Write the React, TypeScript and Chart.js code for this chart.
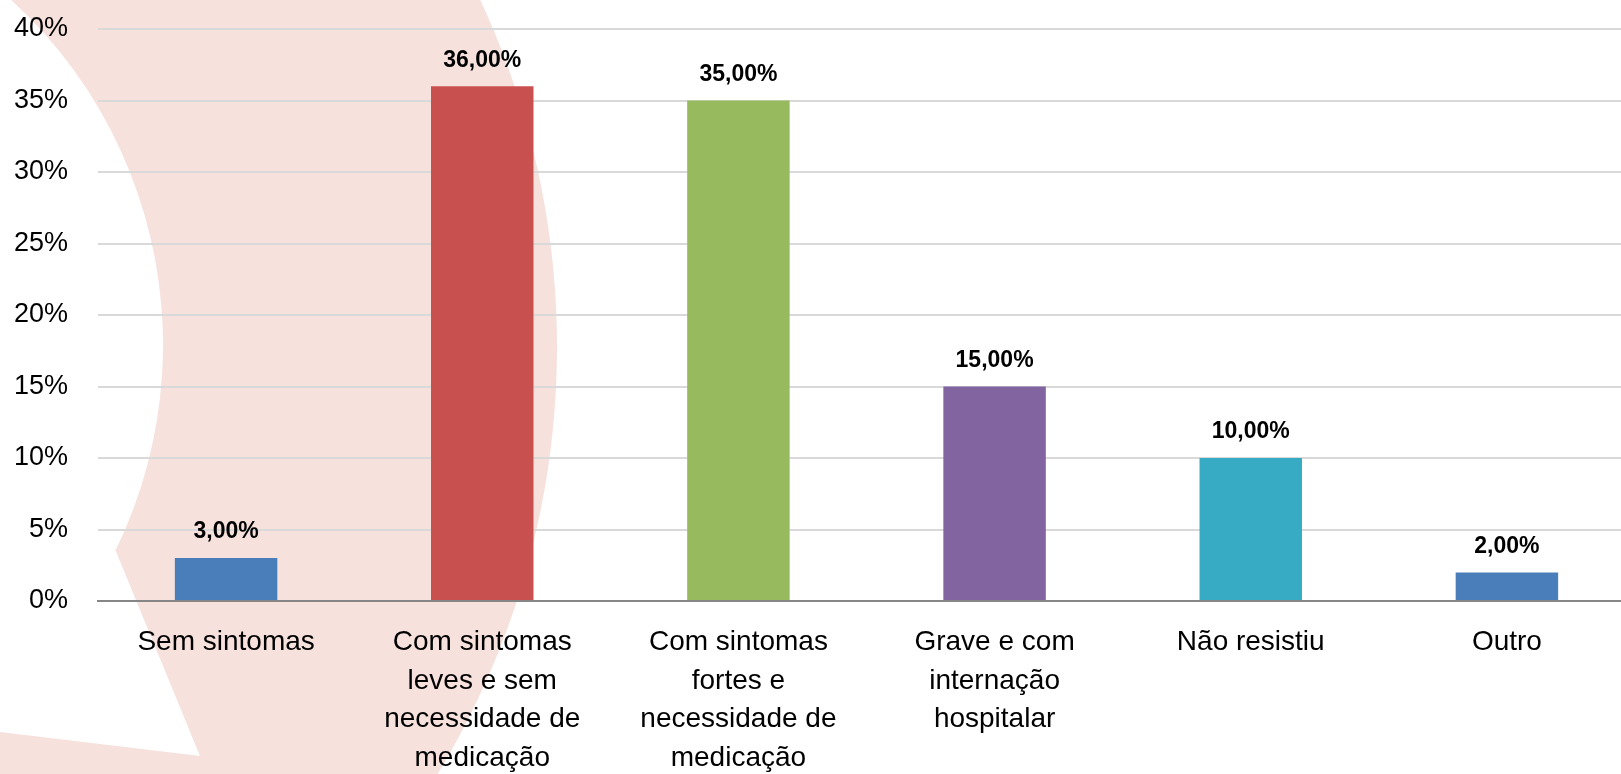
import React, { useEffect, useRef } from "react";
import { Chart, registerables } from "chart.js";

Chart.register(...registerables);

const categories: (string | string[])[] = [
  "Sem sintomas",
  ["Com sintomas", "leves e sem", "necessidade de", "medicação"],
  ["Com sintomas", "fortes e", "necessidade de", "medicação"],
  ["Grave e com", "internação", "hospitalar"],
  "Não resistiu",
  "Outro",
];
const values: number[] = [3, 36, 35, 15, 10, 2];
const barColors: string[] = ["#4A7EBB", "#C8504E", "#98BA5E", "#8264A0", "#37AAC4", "#4A7EBB"];
const yMax = 40;
const yStep = 5;

const FONT = "'Liberation Sans', Arial, sans-serif";

const backgroundShape = {
  id: "backgroundShape",
  beforeDraw(chart: any) {
    const ctx = chart.ctx;
    ctx.save();
    ctx.fillStyle = "#ffffff";
    ctx.fillRect(0, 0, chart.width, chart.height);
    // decorative pink arrow-ring
    ctx.fillStyle = "#F6E1DC";
    ctx.beginPath();
    ctx.arc(-266, 347, 823, 0, Math.PI * 2);
    ctx.fill();
    ctx.fillStyle = "#ffffff";
    ctx.beginPath();
    const cx = -305, cy = 345, r = 468;
    const a1 = Math.atan2(549 - cy, 115 - cx);
    ctx.moveTo(115, 549);
    ctx.arc(cx, cy, r, a1, -Math.PI / 2, true);
    ctx.lineTo(-305, 731);
    ctx.lineTo(0, 732);
    ctx.lineTo(200, 756);
    ctx.closePath();
    ctx.fill();
    ctx.restore();
  },
};

const valueLabels = {
  id: "valueLabels",
  afterDatasetsDraw(chart: any) {
    const ctx = chart.ctx;
    const meta = chart.getDatasetMeta(0);
    ctx.save();
    ctx.font = `bold 23px ${FONT}`;
    ctx.fillStyle = "#000";
    ctx.textAlign = "center";
    ctx.textBaseline = "middle";
    meta.data.forEach((bar: any, i: number) => {
      const v = values[i];
      ctx.fillText(v.toFixed(2).replace(".", ",") + "%", bar.x, bar.y - 26);
    });
    ctx.restore();
  },
};

export default function App() {
  const ref = useRef<HTMLCanvasElement | null>(null);
  useEffect(() => {
    if (!ref.current) return;
    const chart = new Chart(ref.current, {
      type: "bar",
      data: {
        labels: categories,
        datasets: [
          {
            data: values,
            backgroundColor: barColors,
            borderWidth: 0,
            barPercentage: 0.4,
            categoryPercentage: 1,
          },
        ],
      },
      options: {
        animation: false,
        responsive: false,
        devicePixelRatio: 1,
        layout: { padding: { top: 29, left: 0, right: 0, bottom: 0 } },
        plugins: { legend: { display: false }, tooltip: { enabled: false } },
        scales: {
          x: {
            grid: { display: false, drawTicks: false },
            border: { display: true, color: "#868686", width: 2 },
            ticks: {
              color: "#000",
              font: { family: FONT, size: 28, lineHeight: 1.38 },
              padding: 22,
              maxRotation: 0,
              minRotation: 0,
              autoSkip: false,
            },
            afterFit: (s: any) => {
              s.height = 173;
            },
          },
          y: {
            min: 0,
            max: yMax,
            grid: {
              drawTicks: false,
              lineWidth: 2,
              color: (c: any) => (c.tick && c.tick.value === 0 ? "rgba(0,0,0,0)" : "#D9D9D9"),
            },
            border: { display: false },
            ticks: {
              stepSize: yStep,
              color: "#000",
              font: { family: FONT, size: 27 },
              padding: 30,
              callback: (v: any) => v + "%",
            },
            afterFit: (s: any) => {
              s.width = 98;
              s.paddingTop = 0;
              s.paddingBottom = 0;
            },
          },
        },
      },
      plugins: [backgroundShape, valueLabels],
    });
    return () => chart.destroy();
  }, []);
  return (
    <div
      style={{
        position: "absolute",
        left: 0,
        top: 0,
        width: 1621,
        height: 774,
        overflow: "hidden",
        background: "#fff",
      }}
    >
      <canvas ref={ref} width={1635} height={774} style={{ display: "block" }} />
    </div>
  );
}
